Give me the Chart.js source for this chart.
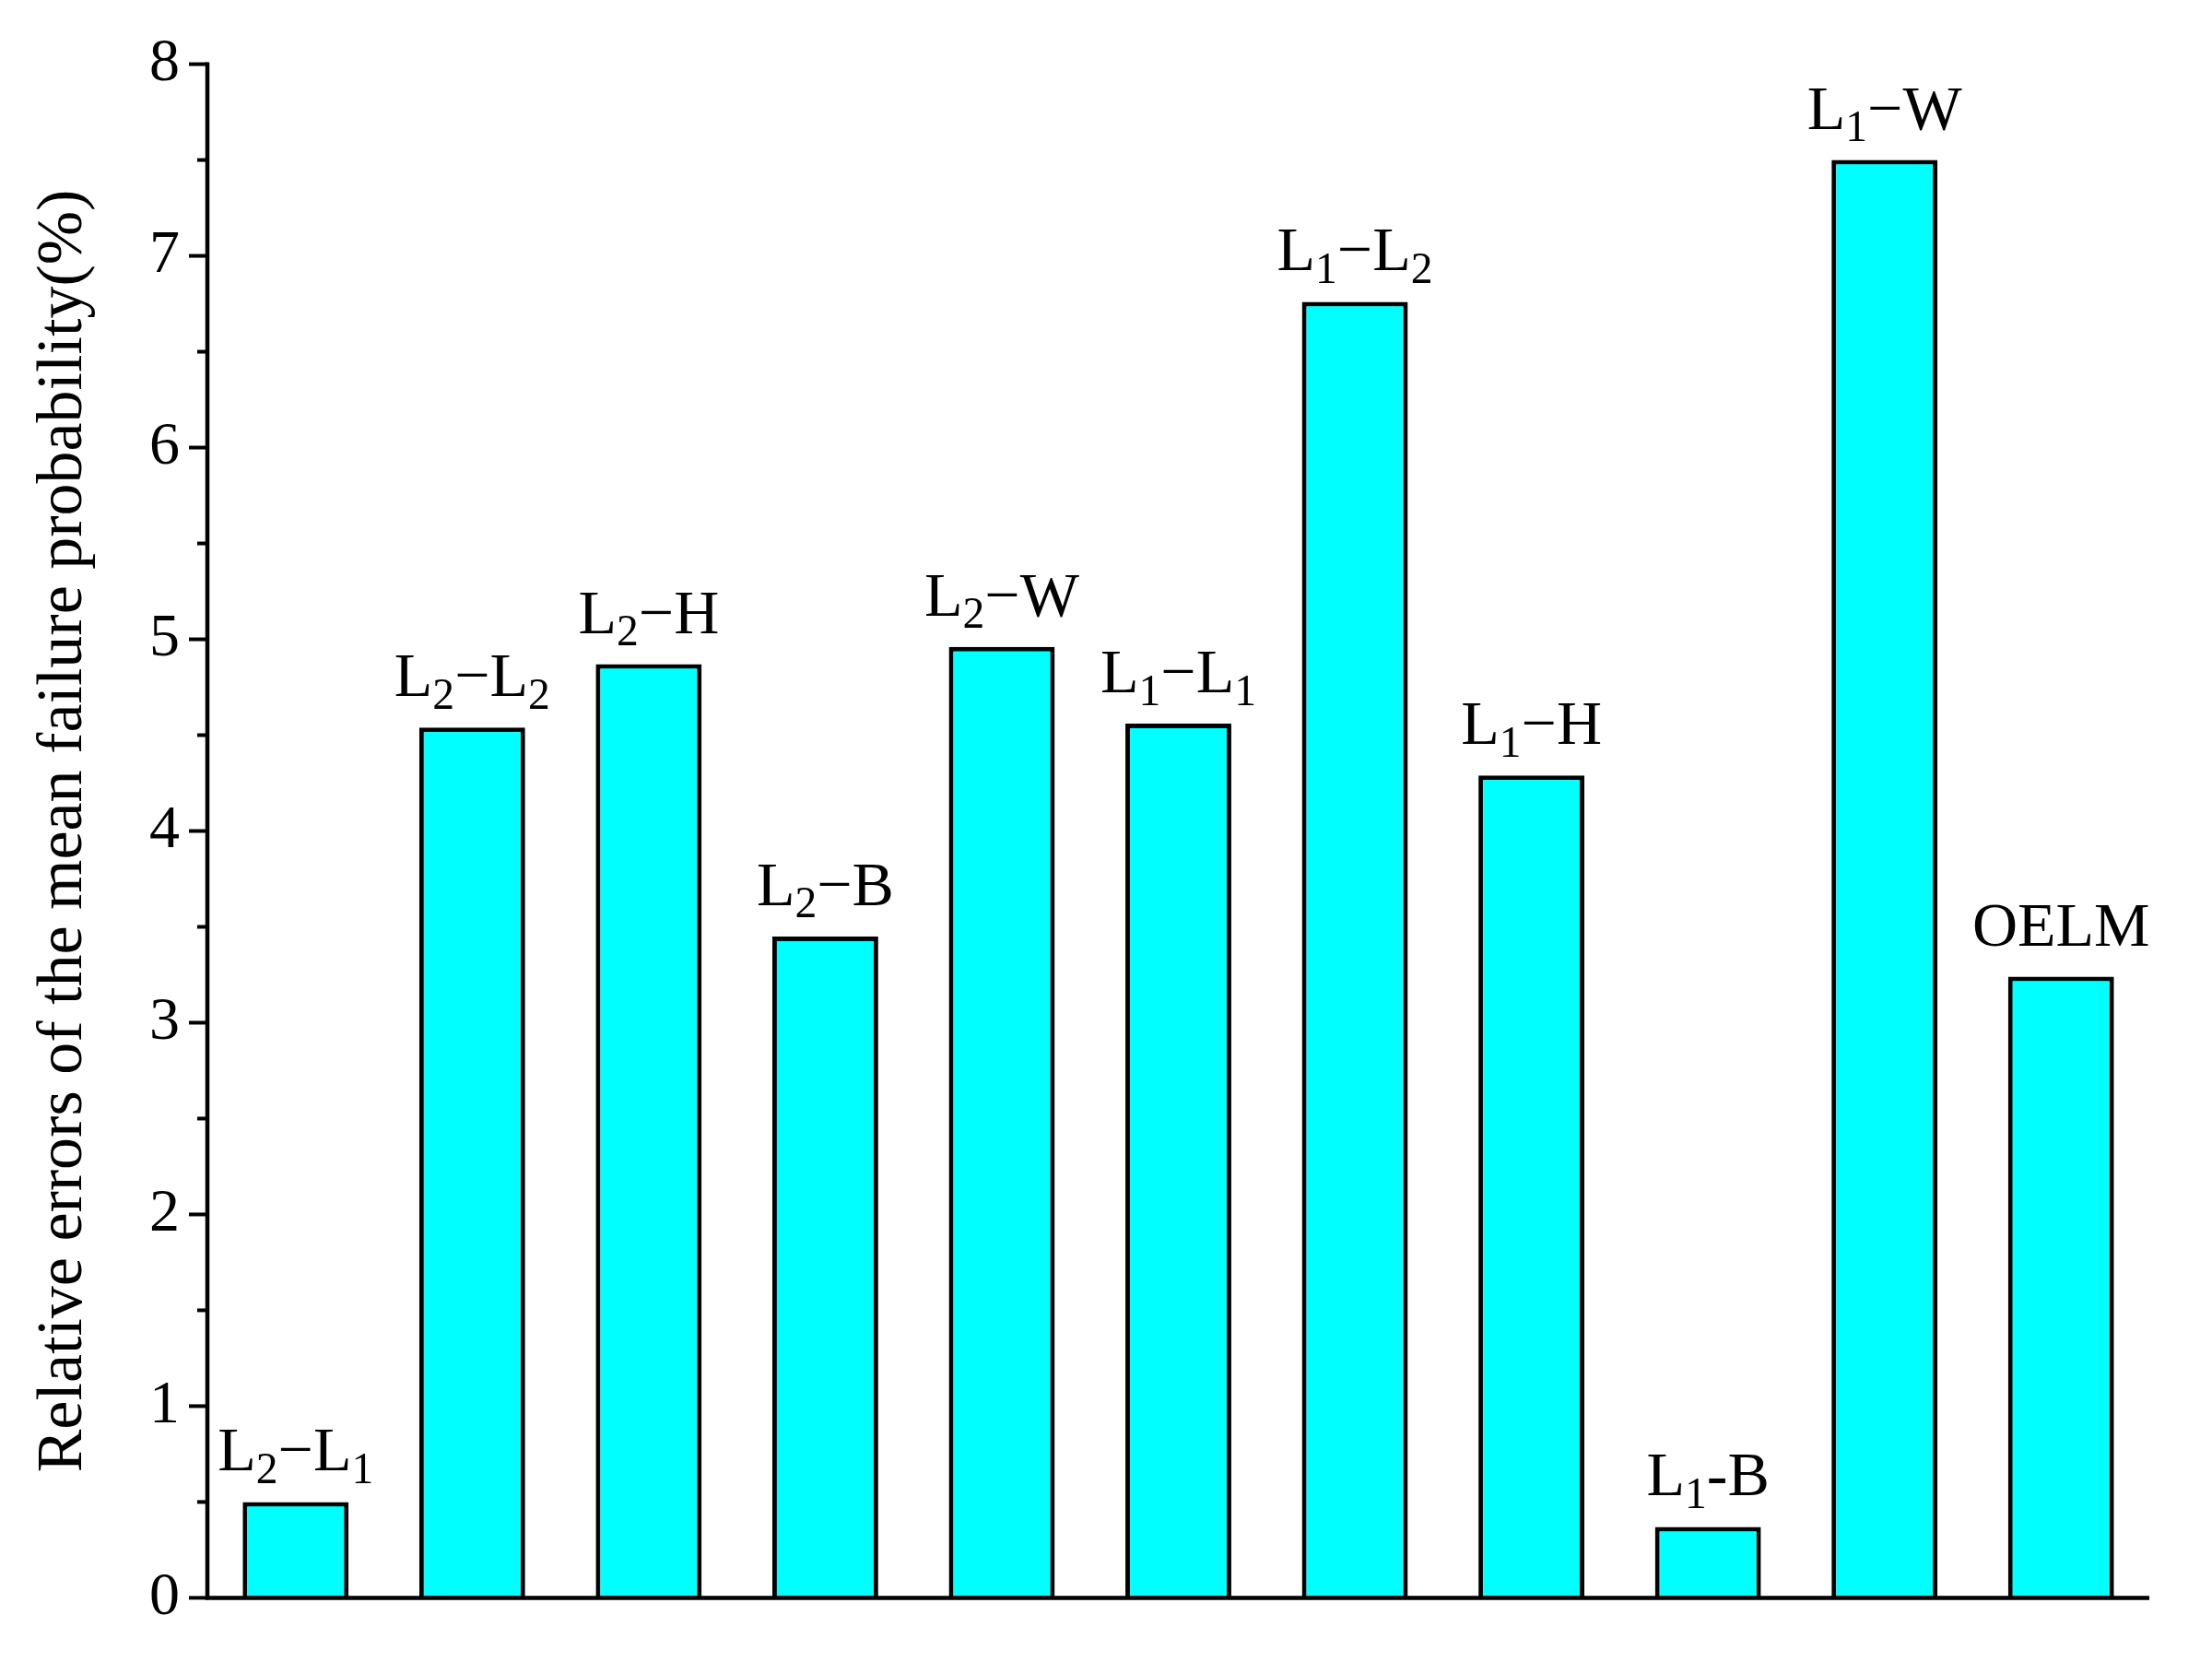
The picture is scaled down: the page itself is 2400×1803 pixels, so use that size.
<!DOCTYPE html>
<html>
<head>
<meta charset="utf-8">
<script src="https://cdn.jsdelivr.net/npm/chart.js@4"></script>
<style>
  html, body { margin: 0; padding: 0; background: #fff; }
  #wrap { width: 2400px; height: 1803px; }
</style>
</head>
<body>
<div id="wrap"><canvas id="chart"></canvas></div>
<script>
// "_x" marks a one-character subscript
const barLabels = ['L_2−L_1', 'L_2−L_2', 'L_2−H', 'L_2−B', 'L_2−W', 'L_1−L_1',
                   'L_1−L_2', 'L_1−H', 'L_1-B', 'L_1−W', 'OELM'];
const relErrors = [0.50, 4.54, 4.87, 3.45, 4.96, 4.56, 6.76, 4.29, 0.37, 7.50, 3.24];
const yTicks = [0, 1, 2, 3, 4, 5, 6, 7, 8];

const FONT = '"Times New Roman", "Liberation Serif", serif';

function drawSubText(ctx, str, cx, baseY, size) {
    const parts = [];
    for (let i = 0; i < str.length; i++) {
        if (str[i] === '_' && i + 1 < str.length) {
            parts.push({ t: str[i + 1], sub: true });
            i++;
        } else {
            parts.push({ t: str[i], sub: false });
        }
    }
    const subSize = size * 0.7;
    let w = 0;
    for (const p of parts) {
        ctx.font = `${p.sub ? subSize : size}px ${FONT}`;
        p.w = ctx.measureText(p.t).width;
        w += p.w;
    }
    let x = cx - w / 2;
    ctx.textAlign = 'left';
    ctx.textBaseline = 'alphabetic';
    for (const p of parts) {
        ctx.font = `${p.sub ? subSize : size}px ${FONT}`;
        ctx.fillText(p.t, x, p.sub ? baseY + size * 0.2 : baseY);
        x += p.w;
    }
}

const extras = {
    id: 'extras',
    afterDatasetsDraw(chart) {
        const ctx = chart.ctx;
        const y = chart.scales.y;
        const area = chart.chartArea;
        ctx.save();
        ctx.fillStyle = '#000';
        chart.getDatasetMeta(0).data.forEach((bar, i) => {
            drawSubText(ctx, barLabels[i], bar.x, bar.y - 34, 68);
        });
        // y ticks, major and minor, pointing outward
        ctx.strokeStyle = '#000';
        ctx.lineWidth = 4;
        for (let v = 0; v <= 8; v += 0.5) {
            const py = y.getPixelForValue(v);
            const len = Number.isInteger(v) ? 20 : 11;
            ctx.beginPath();
            ctx.moveTo(area.left, py);
            ctx.lineTo(area.left - len, py);
            ctx.stroke();
        }
        // axis lines
        ctx.lineWidth = 4.5;
        ctx.beginPath();
        ctx.moveTo(area.left, area.top - 2);
        ctx.lineTo(area.left, area.bottom);
        ctx.lineTo(area.right, area.bottom);
        ctx.stroke();
        ctx.restore();
    }
};

new Chart(document.getElementById('chart'), {
    type: 'bar',
    data: {
        labels: barLabels,
        datasets: [{
            data: relErrors,
            backgroundColor: '#00ffff',
            borderColor: '#000',
            borderWidth: 5,
            borderSkipped: 'bottom',
            categoryPercentage: 1,
            barPercentage: 0.6
        }]
    },
    options: {
        responsive: true,
        maintainAspectRatio: false,
        animation: false,
        devicePixelRatio: 1,
        layout: { padding: { top: 36, right: 68, left: 28, bottom: 0 } },
        plugins: { legend: { display: false }, tooltip: { enabled: false } },
        scales: {
            x: {
                grid: { display: false, drawTicks: false },
                border: { display: false },
                ticks: { display: false },
                afterFit(s) { s.height = 32; }
            },
            y: {
                min: 0,
                max: 8,
                afterBuildTicks(s) { s.ticks = yTicks.map(v => ({ value: v })); },
                grid: { display: false, drawTicks: false },
                border: { display: false },
                ticks: {
                    color: '#000',
                    padding: 30,
                    font: { family: FONT, size: 66 }
                },
                title: {
                    display: true,
                    text: 'Relative errors of the mean failure probability(%)',
                    color: '#000',
                    font: { family: FONT, size: 70 },
                    padding: { top: 0, bottom: 10 }
                },
                afterFit(s) { s.width = 197; }
            }
        }
    },
    plugins: [extras]
});
</script>
</body>
</html>
